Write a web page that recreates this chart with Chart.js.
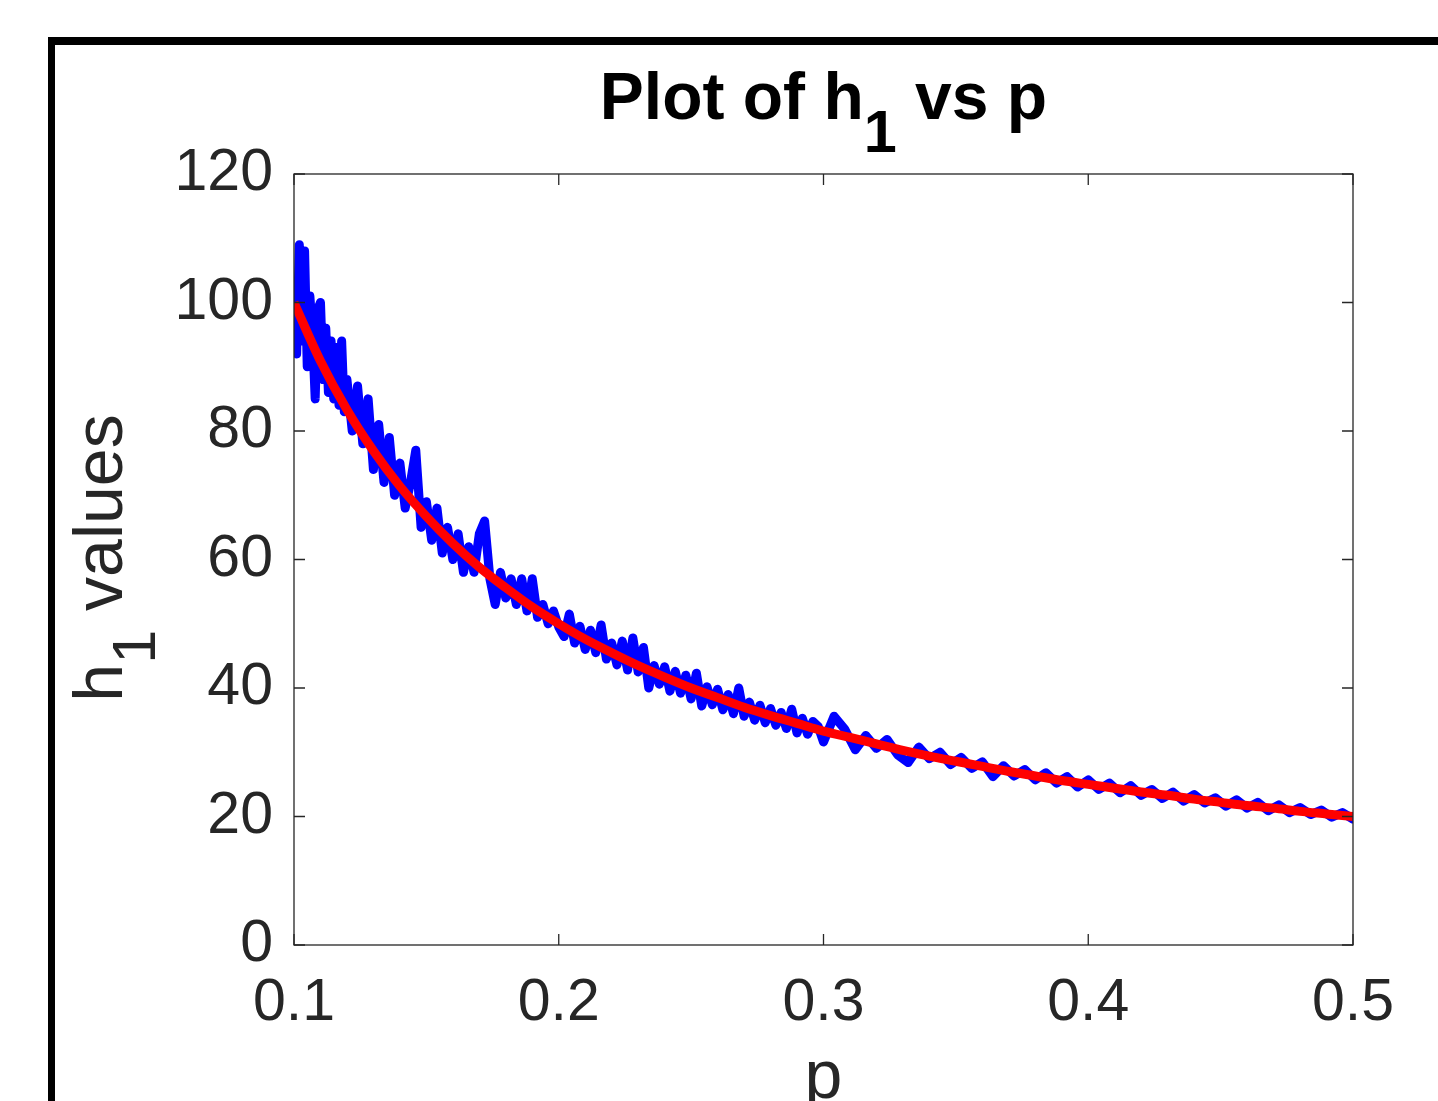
<!DOCTYPE html>
<html>
<head>
<meta charset="utf-8">
<title>Plot of h1 vs p</title>
<script src="https://cdn.jsdelivr.net/npm/chart.js@4.4.0/dist/chart.umd.min.js"></script>
<style>
    html, body { margin: 0; padding: 0; background: #fff; overflow: hidden; }
    body { width: 1438px; height: 1101px; position: relative; font-family: "Liberation Sans", Arial, Helvetica, sans-serif; }
    #frame { position: absolute; left: 48px; top: 37px; width: 1400px; height: 1100px; border-top: 8px solid #000; border-left: 7px solid #000; }
    #plot { position: absolute; left: 0; top: 0; }
    .lbl { position: absolute; white-space: nowrap; text-align: center; }
    .lbl .sub { position: relative; top: 33px; font-size: 0.9em; }
    #title { left: 294px; width: 1059px; top: 63px; font-size: 66px; line-height: 66px; font-weight: bold; color: #000; }
    #ylabel { left: -102px; width: 400px; top: 524px; height: 68px; font-size: 68px; line-height: 68px; color: #262626; transform: rotate(-90deg); }
    #xlabel { left: 294px; width: 1059px; top: 1040px; font-size: 68px; line-height: 68px; color: #262626; }
</style>
</head>
<body>
<div id="frame"></div>
<canvas id="plot" width="1438" height="1101"></canvas>
<div id="title" class="lbl">Plot of h<span class="sub">1</span> vs p</div>
<div id="ylabel" class="lbl">h<span class="sub">1</span> values</div>
<div id="xlabel" class="lbl">p</div>

<script>
// axis ticks
const xTicks = [0.1, 0.2, 0.3, 0.4, 0.5];
const xTickLabels = ['0.1', '0.2', '0.3', '0.4', '0.5'];
const yTicks = [0, 20, 40, 60, 80, 100, 120];
const yTickLabels = ['0', '20', '40', '60', '80', '100', '120'];

const blueP = [
    0.100, 0.101, 0.102, 0.103, 0.104, 0.105, 0.106, 0.107, 0.108, 0.109,
    0.110, 0.111, 0.112, 0.113, 0.114, 0.115, 0.116, 0.117, 0.118, 0.119, 0.120,
    0.122, 0.124, 0.126, 0.128, 0.130, 0.132, 0.134, 0.136, 0.138, 0.140,
    0.142, 0.144, 0.146, 0.148, 0.150, 0.152, 0.154, 0.156, 0.158, 0.160,
    0.162, 0.164, 0.166, 0.168, 0.170, 0.172, 0.174, 0.176, 0.178, 0.180,
    0.182, 0.184, 0.186, 0.188, 0.190, 0.192, 0.194, 0.196, 0.198, 0.200,
    0.202, 0.204, 0.206, 0.208, 0.210, 0.212, 0.214, 0.216, 0.218, 0.220,
    0.222, 0.224, 0.226, 0.228, 0.230, 0.232, 0.234, 0.236, 0.238, 0.240,
    0.242, 0.244, 0.246, 0.248, 0.250, 0.252, 0.254, 0.256, 0.258, 0.260,
    0.262, 0.264, 0.266, 0.268, 0.270, 0.272, 0.274, 0.276, 0.278, 0.280,
    0.282, 0.284, 0.286, 0.288, 0.290, 0.292, 0.294, 0.296, 0.298, 0.300,
    0.304, 0.308, 0.312, 0.316, 0.320, 0.324, 0.328, 0.332, 0.336, 0.340,
    0.344, 0.348, 0.352, 0.356, 0.360, 0.364, 0.368, 0.372, 0.376, 0.380,
    0.384, 0.388, 0.392, 0.396, 0.400, 0.404, 0.408, 0.412, 0.416, 0.420,
    0.424, 0.428, 0.432, 0.436, 0.440, 0.444, 0.448, 0.452, 0.456, 0.460,
    0.464, 0.468, 0.472, 0.476, 0.480, 0.484, 0.488, 0.492, 0.496, 0.500
];
const blueH = [
    102, 92, 109, 94, 108, 90, 101, 95, 85, 99,
    100, 88, 96, 86, 94, 85, 93, 84, 94, 83, 88,
    80, 87, 78, 85, 74, 81, 72, 79, 70, 75,
    68, 72, 77, 65, 69, 63, 68, 61, 65, 60,
    64, 58, 62, 58, 64, 66, 57, 53, 58, 54,
    57, 53, 57, 52, 57, 51, 53, 50, 52, 49.5,
    48.0, 51.5, 47.0, 49.6, 46.0, 49.0, 45.5, 49.8, 44.5, 47.0,
    43.6, 47.3, 42.8, 47.8, 42.5, 46.3, 40.0, 43.5, 40.6, 43.3,
    39.5, 42.6, 39.2, 42.0, 38.3, 42.3, 37.2, 40.2, 37.4, 39.8,
    36.6, 39.0, 36.0, 40.0, 35.6, 37.8, 35.0, 37.3, 34.6, 36.8,
    34.2, 36.2, 33.7, 36.7, 33.0, 35.3, 32.8, 34.8, 34.0, 31.6,
    35.6, 33.6, 30.4, 32.6, 30.6, 32.0, 29.6, 28.4, 30.8, 29.0,
    30.0, 28.1, 29.2, 27.5, 28.5, 26.2, 27.9, 26.3, 27.3, 25.7,
    26.8, 25.2, 26.2, 24.6, 25.7, 24.2, 25.2, 23.7, 24.8, 23.3,
    24.2, 22.8, 23.8, 22.4, 23.4, 22.1, 22.9, 21.6, 22.6, 21.3,
    22.2, 20.9, 21.8, 20.6, 21.4, 20.3, 21.0, 19.9, 20.6, 19.6
];

// fitted curve (red)
const redP = [
    0.10, 0.11, 0.12, 0.13, 0.14, 0.15, 0.16, 0.17, 0.18, 0.19,
    0.20, 0.21, 0.22, 0.23, 0.24, 0.25, 0.26, 0.27, 0.28, 0.29,
    0.30, 0.31, 0.32, 0.33, 0.34, 0.35, 0.36, 0.37, 0.38, 0.39,
    0.40, 0.41, 0.42, 0.43, 0.44, 0.45, 0.46, 0.47, 0.48, 0.49, 0.50
];
const redH = [
    100, 90.9, 83.3, 76.9, 71.4, 66.7, 62.5, 58.8, 55.6, 52.6,
    50.0, 47.6, 45.5, 43.5, 41.7, 40.0, 38.5, 37.0, 35.7, 34.5,
    33.3, 32.3, 31.3, 30.3, 29.4, 28.6, 27.8, 27.0, 26.3, 25.6,
    25.0, 24.4, 23.8, 23.3, 22.7, 22.2, 21.7, 21.3, 20.8, 20.4, 20.0
];

const axisColor = '#262626';
const tickFont = { family: '"Liberation Sans", Arial, Helvetica, sans-serif', size: 59 };

// MATLAB style box with inward tick marks on all four sides
const axesBox = {
    id: 'axesBox',
    afterDatasetsDraw(chart) {
        const { ctx, chartArea: a, scales: { x, y } } = chart;
        const len = 11;
        ctx.save();
        ctx.strokeStyle = axisColor;
        ctx.lineWidth = 1.3;
        ctx.strokeRect(a.left, a.top, a.right - a.left, a.bottom - a.top);
        ctx.beginPath();
        x.ticks.forEach(t => {
            const px = x.getPixelForValue(t.value);
            ctx.moveTo(px, a.bottom); ctx.lineTo(px, a.bottom - len);
            ctx.moveTo(px, a.top); ctx.lineTo(px, a.top + len);
        });
        y.ticks.forEach(t => {
            const py = y.getPixelForValue(t.value);
            ctx.moveTo(a.left, py); ctx.lineTo(a.left + len, py);
            ctx.moveTo(a.right, py); ctx.lineTo(a.right - len, py);
        });
        ctx.stroke();
        ctx.restore();
    }
};

new Chart(document.getElementById('plot'), {
    type: 'line',
    data: {
        datasets: [
            {
                label: 'h1 fit',
                data: redP.map((p, i) => ({ x: p, y: redH[i] })),
                borderColor: '#ff0000',
                borderWidth: 9,
                pointRadius: 0,
                cubicInterpolationMode: 'monotone',
                order: 1
            },
            {
                label: 'h1',
                data: blueP.map((p, i) => ({ x: p, y: blueH[i] })),
                borderColor: '#0000ff',
                borderWidth: 9,
                borderJoinStyle: 'round',
                borderCapStyle: 'round',
                pointRadius: 0,
                tension: 0,
                order: 2
            }
        ]
    },
    options: {
        responsive: false,
        animation: false,
        devicePixelRatio: 1,
        layout: { padding: { top: 174, right: 85, bottom: 0, left: 0 } },
        plugins: {
            legend: { display: false },
            tooltip: { enabled: false },
            title: { display: false }
        },
        scales: {
            x: {
                type: 'linear',
                min: 0.1,
                max: 0.5,
                grid: { display: false, drawTicks: false },
                border: { display: false },
                afterBuildTicks: s => { s.ticks = xTicks.map(v => ({ value: v })); },
                afterFit: s => { s.height = 156; },
                ticks: {
                    font: tickFont,
                    color: axisColor,
                    padding: 23,
                    maxRotation: 0,
                    autoSkip: false,
                    callback: (v, i) => xTickLabels[i]
                }
            },
            y: {
                type: 'linear',
                min: 0,
                max: 120,
                grid: { display: false, drawTicks: false },
                border: { display: false },
                afterBuildTicks: s => { s.ticks = yTicks.map(v => ({ value: v })); },
                afterFit: s => { s.width = 294; },
                ticks: {
                    font: tickFont,
                    color: axisColor,
                    padding: 21,
                    autoSkip: false,
                    callback: (v, i) => yTickLabels[i]
                }
            }
        }
    },
    plugins: [axesBox]
});
</script>
</body>
</html>
